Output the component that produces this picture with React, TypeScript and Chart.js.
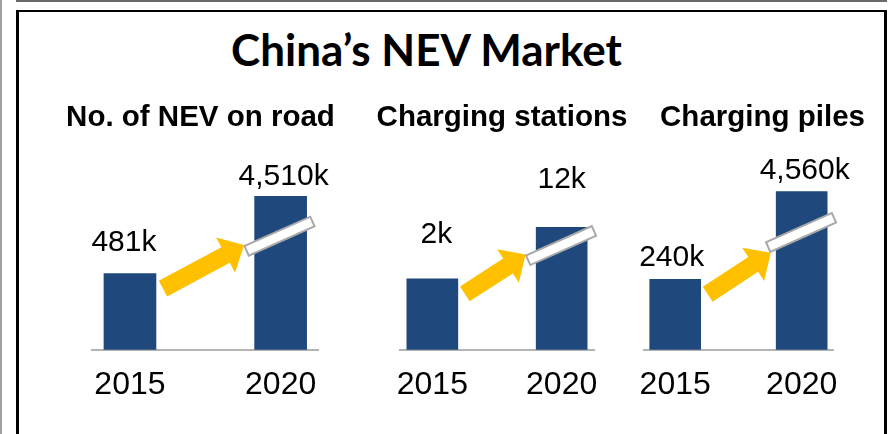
import React, { useEffect, useRef } from "react";
import { Chart, registerables } from "chart.js";

Chart.register(...registerables);

const mainTitle = "China’s NEV Market";
const panelTitles = ["No. of NEV on road", "Charging stations", "Charging piles"];
const years = [2015, 2020];
// Reported values (thousands)
const values2015 = [481, 2, 240];
const values2020 = [4510, 12, 4560];
// Bar heights as drawn in the picture (percent of plot height) – the original is not to scale
const drawnHeight2015 = [38.8, 36.1, 35.9];
const drawnHeight2020 = [78.1, 62.3, 80.6];
// Height where the axis-break marker crosses the 2020 bar (same units)
const breakHeight = [50.4, 45.6, 52.3];

const FONT = "'Liberation Sans', Arial, Helvetica, sans-serif";
const BAR = "#1F497D";
const ARROW = "#FFC000";
const BREAK_STROKE = "#A9A9A9";
const AXIS = "#B4B4B4";

const layouts = [
  { left: 40, width: 330, padLeft: 15, padRight: 24, wL: 37.3, wR: 27.7, barW: 52, labelShift: [[-6, 23], [3, 11]], tipSide: 1 },
  { left: 355, width: 295, padLeft: 7, padRight: 8, wL: 38, wR: 48, barW: 51, labelShift: [[4, 36], [0, 39]], tipSide: 1 },
  { left: 620, width: 273, padLeft: 21.7, padRight: 9.7, wL: 0, wR: 50, barW: 51, labelShift: [[-3.5, 13], [3, 13]], tipSide: -1 },
];
const CANVAS_TOP = 85;
const CANVAS_H = 338;

const fmt = (v: number) => v.toLocaleString("en-US") + "k";

function Panel({ idx }: { idx: number }) {
  const ref = useRef<HTMLCanvasElement>(null);
  const L = layouts[idx];
  useEffect(() => {
    const heights = [drawnHeight2015[idx], drawnHeight2020[idx]];
    const vals = [values2015[idx], values2020[idx]];
    const deco = {
      id: "deco" + idx,
      afterDatasetsDraw(chart: any) {
        const ctx: CanvasRenderingContext2D = chart.ctx;
        const bars = chart.getDatasetMeta(0).data.map((b: any) => b.getProps(["x", "y", "base", "width"], true));
        const [b1, b2] = bars;
        // value labels
        ctx.save();
        ctx.font = `30px ${FONT}`;
        ctx.fillStyle = "#000";
        ctx.textAlign = "center";
        ctx.textBaseline = "alphabetic";
        bars.forEach((b: any, i: number) => {
          const s = L.labelShift[i];
          ctx.fillText(fmt(vals[i]), b.x + s[0], b.y - s[1]);
        });
        ctx.restore();

        // break marker geometry
        const ang = (-24 * Math.PI) / 180;
        const mLen = 72;
        const mT = 10.5;
        const mx = b2.x - b2.width / 2 - 8;
        const my = chart.scales.y.getPixelForValue(breakHeight[idx]);
        const nx = Math.sin(ang);
        const ny = -Math.cos(ang);
        const off = L.tipSide * (mT / 2 + 1);
        const tip = { x: mx + nx * off, y: my + ny * off };

        // arrow
        const tail = { x: b1.x + b1.width / 2 + 7, y: b1.y + 15 };
        const dx = tip.x - tail.x;
        const dy = tip.y - tail.y;
        const len = Math.hypot(dx, dy);
        const ux = dx / len, uy = dy / len;
        const vx = -uy, vy = ux;
        const headLen = 21, headHalf = 20, shaftHalf = 8.9;
        const bx = tip.x - ux * headLen, by = tip.y - uy * headLen;
        ctx.save();
        ctx.fillStyle = ARROW;
        ctx.beginPath();
        ctx.moveTo(tail.x + vx * shaftHalf, tail.y + vy * shaftHalf);
        ctx.lineTo(bx + vx * shaftHalf, by + vy * shaftHalf);
        ctx.lineTo(bx + vx * headHalf, by + vy * headHalf);
        ctx.lineTo(tip.x, tip.y);
        ctx.lineTo(bx - vx * headHalf, by - vy * headHalf);
        ctx.lineTo(bx - vx * shaftHalf, by - vy * shaftHalf);
        ctx.lineTo(tail.x - vx * shaftHalf, tail.y - vy * shaftHalf);
        ctx.closePath();
        ctx.fill();
        ctx.restore();

        // break marker
        ctx.save();
        ctx.translate(mx, my);
        ctx.rotate(ang);
        ctx.fillStyle = "#fff";
        ctx.strokeStyle = BREAK_STROKE;
        ctx.lineWidth = 2;
        ctx.beginPath();
        ctx.rect(0, -mT / 2, mLen, mT);
        ctx.fill();
        ctx.stroke();
        ctx.restore();
      },
    };

    const hiddenAxis = (pos: string, w: number) => ({
      position: pos,
      display: w > 0,
      min: 0,
      max: 100,
      grid: { display: false, drawTicks: false },
      border: { display: false },
      ticks: { display: false },
      afterFit: (s: any) => {
        s.width = w;
      },
    });

    const chart = new Chart(ref.current as HTMLCanvasElement, {
      type: "bar",
      data: {
        datasets: [
          {
            data: years.map((y, i) => ({ x: y, y: heights[i] })),
            backgroundColor: BAR,
            borderWidth: 0,
            barThickness: L.barW,
            yAxisID: "y",
          } as any,
        ],
      },
      options: {
        responsive: false,
        animation: false,
        events: [],
        layout: { padding: { left: L.padLeft, right: L.padRight, top: 0, bottom: 2.8 } },
        plugins: {
          legend: { display: false },
          tooltip: { enabled: false },
          title: {
            display: true,
            text: panelTitles[idx],
            color: "#000",
            font: { family: FONT, size: 29.5, weight: "bold", lineHeight: 1.2 },
            padding: { top: 15.5, bottom: 17.5 },
          },
        },
        scales: {
          x: {
            type: "linear",
            min: 2013.75,
            max: 2021.25,
            offset: false,
            afterBuildTicks: (s: any) => {
              s.ticks = years.map((v) => ({ value: v }));
            },
            grid: { display: false, drawTicks: false },
            border: { display: true, color: AXIS, width: 2 },
            ticks: {
              autoSkip: false,
              maxRotation: 0,
              padding: 16,
              color: "#000",
              font: { family: FONT, size: 32, lineHeight: 1.2 },
              callback: (v: any) => String(v),
            },
          },
          y: hiddenAxis("left", L.wL),
          y2: hiddenAxis("right", L.wR),
        },
      } as any,
      plugins: [deco],
    });
    return () => chart.destroy();
  }, [idx]);
  return (
    <canvas
      ref={ref}
      width={L.width}
      height={CANVAS_H}
      style={{ position: "absolute", left: L.left, top: CANVAS_TOP, width: L.width, height: CANVAS_H }}
    />
  );
}

export default function App() {
  return (
    <div style={{ position: "absolute", left: 0, top: 0, width: 893, height: 434, overflow: "hidden", background: "#fff" }}>
      <div style={{ position: "absolute", left: 0, top: 0, width: 2, height: 434, background: "#A0A0A0" }} />
      <div style={{ position: "absolute", left: 16, top: 0, width: 871, height: 2, background: "#6A6A6A" }} />
      <div
        style={{
          position: "absolute",
          left: 16,
          top: 10,
          width: 871,
          height: 500,
          boxSizing: "border-box",
          borderTop: "2px solid #000",
          borderLeft: "3px solid #000",
          borderRight: "3px solid #000",
        }}
      />
      <div
        style={{
          position: "absolute",
          left: 0,
          top: 28,
          width: 853,
          textAlign: "center",
          fontFamily: "Lato, 'Open Sans', sans-serif",
          fontWeight: 700,
          fontSize: 44,
          lineHeight: "43px",
          color: "#000",
          whiteSpace: "nowrap",
        }}
      >
        {mainTitle}
      </div>
      {[0, 1, 2].map((i) => (
        <Panel key={i} idx={i} />
      ))}
    </div>
  );
}
